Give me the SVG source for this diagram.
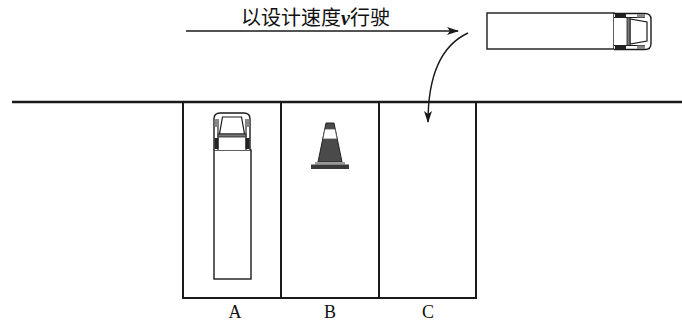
<svg xmlns="http://www.w3.org/2000/svg" width="682" height="322" viewBox="0 0 682 322">
  <style>
    .ln { fill: none; stroke: #1a1a1a; stroke-width: 2; }
    .thin { fill: none; stroke: #1a1a1a; stroke-width: 1.4; }
    .lbl { font-family: "Liberation Serif", "Times New Roman", serif; font-size: 18px; fill: #111; text-anchor: middle; }
    .cap { font-family: "Noto Sans CJK SC", "Noto Sans", sans-serif; font-size: 20px; fill: #111; }
  </style>
  <defs>
    <marker id="arrow" viewBox="0 0 12 8" refX="11" refY="4" markerWidth="12" markerHeight="8" markerUnits="userSpaceOnUse" orient="auto">
      <path d="M0,0 L12,4 L0,8 L3,4 z" fill="#1a1a1a"/>
    </marker>
    <!-- truck cab, front pointing up, 38 x 38 -->
    <g id="cab">
      <path d="M0.5,38 L0.5,7 Q0.5,1 6.5,1 L30.5,1 Q36.5,1 36.5,7 L36.5,38" fill="#fff" stroke="#1a1a1a" stroke-width="1.4"/>
      <path d="M4.5,38 L4.5,7 M32.5,38 L32.5,7" fill="none" stroke="#1a1a1a" stroke-width="1.1"/>
      <path d="M9,5 L28,5 L31,22 L6,22 z" fill="#fff" stroke="#1a1a1a" stroke-width="1.2"/>
      <rect x="4.5" y="22" width="28" height="3" fill="#777" stroke="#1a1a1a" stroke-width="0.8"/>
      <rect x="1" y="26" width="4" height="11" fill="#222"/>
      <rect x="32" y="26" width="4" height="11" fill="#222"/>
      <rect x="1" y="7" width="3.5" height="8" fill="#888"/>
      <rect x="32.5" y="7" width="3.5" height="8" fill="#888"/>
    </g>
  </defs>

  <!-- roadside edge -->
  <line x1="12" y1="102" x2="682" y2="102" stroke="#1a1a1a" stroke-width="2.5"/>

  <!-- parking bays -->
  <g id="bays">
    <path class="ln" d="M183,102 L183,298 L476,298 L476,102 M281,102 L281,298 M379,102 L379,298"/>
  </g>

  <g id="label-a"><text class="lbl" x="235" y="318">A</text></g>
  <g id="label-b"><text class="lbl" x="330" y="318">B</text></g>
  <g id="label-c"><text class="lbl" x="428" y="318">C</text></g>

  <!-- parked truck in bay A -->
  <g id="truck-a">
    <rect class="thin" x="214" y="150" width="37" height="129" fill="#fff"/>
    <use href="#cab" x="213.5" y="112"/>
  </g>

  <!-- traffic cone in bay B -->
  <g id="cone">
    <path d="M326,123 L334,123 L342,162 L318,162 z" fill="#4a4a4a" stroke="#222" stroke-width="1"/>
    <path d="M324.9,129 L335.1,129 L337.1,139 L322.9,139 z" fill="#fff" stroke="#555" stroke-width="0.8"/>
    <rect x="315" y="162" width="30" height="2.5" fill="#999"/>
    <rect x="311" y="164.5" width="38" height="4.5" fill="#3a3a3a"/>
  </g>

  <!-- moving truck -->
  <g id="truck-moving">
    <rect class="thin" x="487" y="13" width="127" height="36" fill="#fff"/>
    <use href="#cab" transform="translate(652,13) rotate(90)"/>
  </g>

  <g id="caption">
    <text class="cap" x="241" y="25">以设计速度<tspan font-family="Liberation Serif, serif" font-style="italic" font-weight="bold">v</tspan>行驶</text>
  </g>

  <g id="connectors">
    <line class="thin" x1="186" y1="31" x2="458" y2="31" marker-end="url(#arrow)"/>
    <path class="thin" d="M468,33 C440,46 428,78 428,122" marker-end="url(#arrow)"/>
  </g>
</svg>
